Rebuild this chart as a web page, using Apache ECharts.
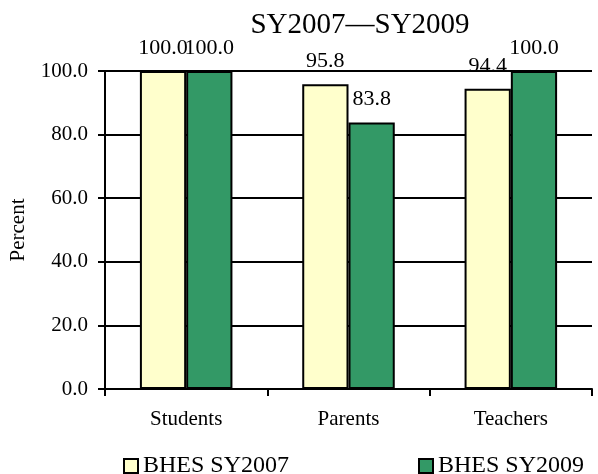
<!DOCTYPE html>
<html><head><meta charset="utf-8">
<script src="https://cdn.jsdelivr.net/npm/echarts@6/dist/echarts.min.js"></script>
<style>html,body{margin:0;padding:0;background:#fff}#c{width:598px;height:474px}</style>
</head><body><div id="c"></div>
<script>
const categories = ['Students', 'Parents', 'Teachers'];
const sy2007 = [100.0, 95.8, 94.4];
const sy2009 = [100.0, 83.8, 100.0];
const seriesNames = ['BHES SY2007', 'BHES SY2009'];
const font = 'Liberation Serif, Times New Roman, serif';
const chart = echarts.init(document.getElementById('c'));
const lbl = {show: true, position: 'top', distance: 12, color: '#000', fontFamily: font, fontSize: 22, formatter: p => p.value.toFixed(1)};
chart.setOption({
  animation: false,
  title: {text: 'SY2007\u2014SY2009', left: 355, textAlign: 'center', top: 6, textStyle: {fontFamily: font, fontSize: 29, fontWeight: 'normal', color: '#000'}},
  legend: [
    {data: [seriesNames[0]], icon: 'rect', left: 118, top: 449, itemWidth: 14, itemHeight: 14, itemGap: 6, textStyle: {fontFamily: font, fontSize: 24, color: '#000'}},
    {data: [seriesNames[1]], icon: 'rect', left: 413, top: 449, itemWidth: 14, itemHeight: 14, itemGap: 6, textStyle: {fontFamily: font, fontSize: 24, color: '#000'}}
  ],
  grid: {left: 102, right: 6, top: 71, bottom: 85, containLabel: false},
  xAxis: {type: 'category', data: categories,
    axisLine: {lineStyle: {color: '#000', width: 2}},
    axisTick: {show: true, alignWithLabel: false, length: 7, lineStyle: {color: '#000', width: 2}},
    axisLabel: {color: '#000', fontFamily: font, fontSize: 21, margin: 20}},
  yAxis: {type: 'value', min: 0, max: 100, interval: 20, name: 'Percent', nameLocation: 'middle', nameGap: 76,
    nameTextStyle: {fontFamily: font, fontSize: 21, color: '#000'},
    axisLine: {show: true, lineStyle: {color: '#000', width: 2}},
    axisTick: {show: true, length: 7, lineStyle: {color: '#000', width: 2}},
    splitLine: {show: true, lineStyle: {color: '#000', width: 2}},
    axisLabel: {color: '#000', fontFamily: font, fontSize: 21, margin: 17, formatter: v => v.toFixed(1)}},
  series: [
    {name: seriesNames[0], type: 'bar', data: sy2007, barGap: '0%', barCategoryGap: '43%', label: lbl,
      itemStyle: {color: '#FFFFCC', borderColor: '#000', borderWidth: 2}},
    {name: seriesNames[1], type: 'bar', data: sy2009, label: lbl,
      itemStyle: {color: '#339966', borderColor: '#000', borderWidth: 2}}
  ]
});
</script></body></html>
